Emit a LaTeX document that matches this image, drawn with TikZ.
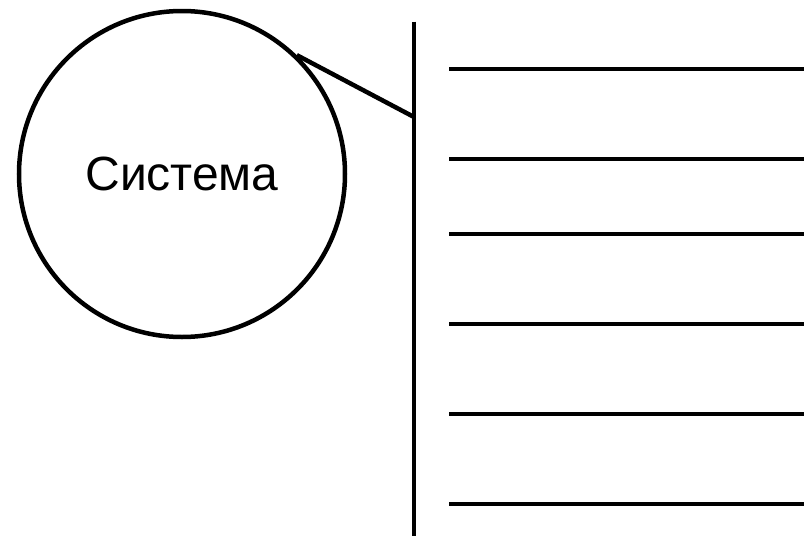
\documentclass[tikz,border=0pt]{standalone}
\usepackage{fontspec}
\setmainfont{Liberation Sans}
\usepackage{tikz}
\usetikzlibrary{calc}

\begin{document}
\begin{tikzpicture}[x=1pt,y=-1pt,line width=4.5pt]
    \useasboundingbox (0,0) rectangle (804,536);

    \node[draw,circle,minimum size=326pt,inner sep=0pt,font=\fontsize{48}{54}\selectfont] (sys) at (182,174) {Система};

    \coordinate (top) at (414,21.5);
    \coordinate (bot) at (414,536);
    \coordinate (tap) at (414,117);

    \coordinate (l1) at (449,69);
    \coordinate (r1) at (804,69);
    \coordinate (l2) at (449,159);
    \coordinate (r2) at (804,159);
    \coordinate (l3) at (449,234);
    \coordinate (r3) at (804,234);
    \coordinate (l4) at (449,324);
    \coordinate (r4) at (804,324);
    \coordinate (l5) at (449,414);
    \coordinate (r5) at (804,414);
    \coordinate (l6) at (449,504);
    \coordinate (r6) at (804,504);

    \draw (top) to (bot);
    \draw (sys.46) to (tap);

    \draw (l1) to (r1);
    \draw (l2) to (r2);
    \draw (l3) to (r3);
    \draw (l4) to (r4);
    \draw (l5) to (r5);
    \draw (l6) to (r6);
  \end{tikzpicture}
\end{document}
